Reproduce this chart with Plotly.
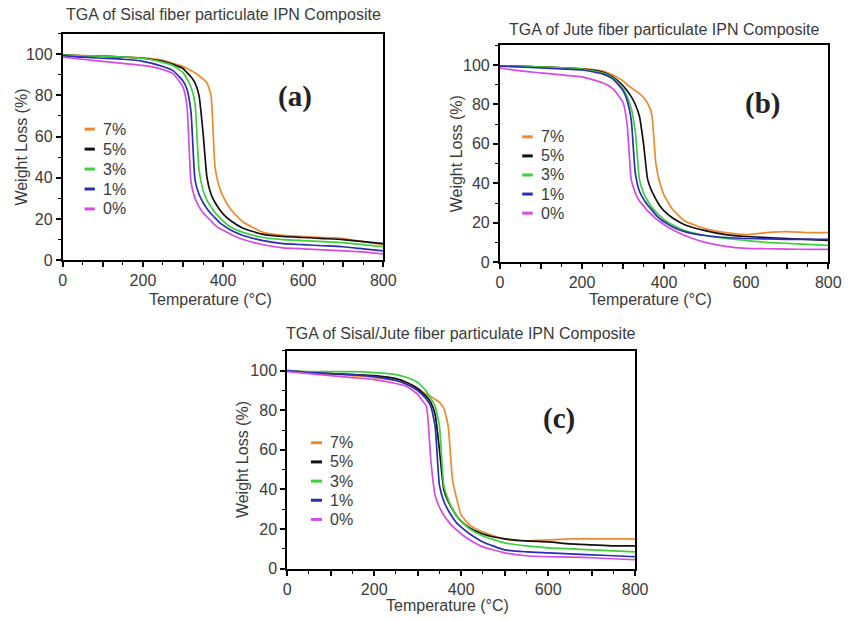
import plotly.graph_objects as go

# ---------------- data ----------------
temperature = [0, 50, 100, 150, 200, 250, 275, 300, 310, 320, 330, 340, 350, 360, 370,
               380, 390, 400, 420, 450, 500, 550, 600, 650, 700, 750, 800]

series_names = ["7%", "5%", "3%", "1%", "0%"]
series_colors = ["#EE8A2E", "#111111", "#3CD03C", "#2B2BB5", "#D54BE3"]

# (a) Sisal
sisal_7 = [99.5, 99.3, 99.0, 98.6, 98.2, 97.0, 95.5, 94.0, 93.0, 92.0, 91.0, 89.5, 88.0, 86.0, 80.0,
           45.0, 36.0, 31.0, 24.5, 18.5, 13.5, 12.0, 11.5, 11.0, 10.5, 9.0, 7.5]
sisal_5 = [99.5, 99.2, 99.0, 98.6, 98.0, 96.5, 95.0, 93.0, 91.0, 89.0, 86.0, 80.0, 62.0, 40.0, 32.0,
           28.0, 25.0, 22.5, 19.0, 15.5, 12.5, 11.5, 11.0, 10.5, 10.0, 9.0, 8.0]
sisal_3 = [99.5, 99.2, 99.0, 98.6, 98.0, 96.0, 94.5, 91.0, 88.0, 84.0, 76.0, 44.0, 34.0, 29.0, 26.0,
           23.0, 21.0, 19.0, 16.0, 13.5, 11.0, 10.0, 9.5, 9.0, 8.5, 7.5, 6.5]
sisal_1 = [99.3, 98.5, 98.0, 97.5, 96.5, 94.0, 92.0, 87.0, 83.0, 72.0, 39.0, 32.0, 28.0, 25.0, 22.5,
           20.5, 18.5, 17.0, 14.5, 12.0, 9.5, 8.0, 7.5, 7.0, 6.5, 5.5, 4.5]
sisal_0 = [98.5, 97.5, 96.5, 95.5, 94.5, 92.5, 90.5, 84.0, 75.0, 38.0, 30.0, 26.0, 23.0, 21.0, 19.0,
           17.0, 15.5, 14.5, 12.5, 10.0, 7.5, 6.0, 5.5, 5.0, 4.5, 4.0, 3.0]

# (b) Jute
jute_7 = [99.5, 99.3, 99.0, 98.6, 98.2, 97.0, 95.0, 92.0, 90.0, 88.5, 87.0, 85.5, 83.5, 80.5, 75.0,
          50.0, 40.0, 34.0, 27.0, 21.0, 17.0, 15.0, 14.0, 15.0, 15.5, 15.0, 15.0]
jute_5 = [99.5, 99.3, 99.0, 98.6, 98.0, 96.5, 94.0, 89.5, 87.0, 84.0, 80.0, 74.0, 60.0, 42.0, 36.0,
          32.0, 28.5, 26.0, 22.5, 19.0, 16.0, 14.0, 13.0, 12.5, 12.0, 11.5, 11.0]
jute_3 = [99.5, 99.3, 99.0, 98.6, 98.0, 96.0, 93.5, 88.0, 84.0, 78.0, 66.0, 42.0, 35.0, 31.0, 28.0,
          25.5, 23.5, 21.5, 19.0, 16.0, 13.5, 12.0, 11.0, 10.0, 9.5, 9.0, 8.5]
jute_1 = [99.5, 99.0, 98.5, 98.0, 97.5, 95.5, 93.0, 87.0, 82.0, 72.0, 45.0, 36.0, 32.0, 29.0, 26.5,
          24.0, 22.0, 20.5, 18.0, 15.5, 13.5, 12.5, 12.0, 11.8, 11.6, 11.5, 11.5]
jute_0 = [98.5, 97.0, 96.0, 95.0, 94.0, 91.0, 88.0, 81.0, 70.0, 42.0, 35.0, 31.0, 28.5, 26.0, 24.0,
          22.0, 20.5, 19.0, 16.5, 13.5, 10.0, 8.0, 7.0, 6.8, 6.6, 6.5, 6.5]

# (c) Sisal/Jute
hybrid_7 = [100.0, 99.0, 98.5, 97.5, 96.5, 95.0, 93.5, 91.0, 89.5, 88.0, 87.0, 85.5, 84.0, 81.0, 72.0,
            45.0, 35.0, 27.0, 22.0, 18.5, 15.0, 14.0, 14.5, 15.0, 15.0, 15.0, 15.0]
hybrid_5 = [100.0, 99.0, 98.5, 98.0, 97.5, 96.0, 94.0, 91.0, 89.0, 87.0, 84.0, 78.0, 60.0, 40.0, 34.0,
            30.0, 26.5, 24.0, 20.5, 17.5, 15.0, 14.0, 13.5, 12.5, 12.0, 11.5, 11.5]
hybrid_3 = [100.0, 99.5, 99.5, 99.5, 99.0, 98.0, 96.5, 94.0, 92.0, 89.5, 86.0, 82.0, 72.0, 42.0, 35.0,
            30.0, 26.5, 24.0, 20.0, 16.5, 13.0, 11.5, 10.5, 10.0, 9.5, 9.0, 8.5]
hybrid_1 = [100.0, 99.0, 98.5, 98.0, 97.0, 95.0, 93.0, 90.0, 88.0, 85.5, 82.0, 72.0, 42.0, 34.0, 29.5,
            26.0, 23.0, 21.0, 17.5, 13.5, 9.5, 8.5, 8.0, 7.5, 7.0, 6.5, 6.0]
hybrid_0 = [99.5, 98.5, 97.5, 96.5, 95.5, 93.5, 92.0, 88.0, 85.0, 82.0, 55.0, 37.0, 31.0, 27.0, 24.0,
            21.5, 19.5, 17.5, 14.5, 11.0, 8.0, 6.5, 6.0, 5.8, 5.5, 5.0, 4.5]

panel_titles = ["TGA of Sisal fiber particulate IPN Composite",
                "TGA of Jute fiber particulate IPN Composite",
                "TGA of Sisal/Jute fiber particulate IPN Composite"]
panel_labels = ["(a)", "(b)", "(c)"]
x_ticks = [0, 100, 200, 300, 400, 500, 600, 700, 800]
x_tick_text = ["0", "", "200", "", "400", "", "600", "", "800"]
y_ticks = [0, 20, 40, 60, 80, 100]

panels = [
    [sisal_7, sisal_5, sisal_3, sisal_1, sisal_0],
    [jute_7, jute_5, jute_3, jute_1, jute_0],
    [hybrid_7, hybrid_5, hybrid_3, hybrid_1, hybrid_0],
]

# ---------------- layout geometry ----------------
W, H = 852, 621
# pixel boxes (left, right, top, bottom) of each plotting frame
boxes = [(60, 387, 34, 264), (506, 841, 46, 266), (289, 644, 356, 577)]
# label positions (domain coords)
panel_label_pos = [(0.725, 0.722), (0.80, 0.732), (0.78, 0.688)]
xtitle_y = [-0.172, -0.17, -0.168]
title_y = [1.083, 1.073, 1.081]
ytitle_x = [-0.128, -0.132, -0.129]

TEXT = "#3a3a3a"
FONT = "Arial, Liberation Sans, sans-serif"

fig = go.Figure()
annotations = []
shapes = []
layout = {}

for p, series in enumerate(panels):
    sfx = "" if p == 0 else str(p + 1)
    xa, ya = "x" + sfx, "y" + sfx
    for name, color, vals in zip(series_names, series_colors, series):
        fig.add_trace(go.Scatter(x=temperature, y=vals, mode="lines", name=name,
                                 line=dict(color=color, width=1.7, shape="spline", smoothing=0.5),
                                 xaxis=xa, yaxis=ya, showlegend=False))
    l, r, t, b = boxes[p]
    layout["xaxis" + sfx] = dict(
        domain=[l / W, r / W], anchor=ya, range=[0, 800],
        tickmode="array", tickvals=x_ticks, ticktext=x_tick_text,
        ticks="outside", ticklen=5, tickwidth=1.5, tickcolor="black",
        minor=dict(dtick=50, ticks="outside", ticklen=3, tickcolor="black", tickwidth=1.2),
        showline=True, linecolor="black", linewidth=2, mirror=True,
        showgrid=False, zeroline=False,
        tickfont=dict(family=FONT, size=16, color=TEXT),
    )
    layout["yaxis" + sfx] = dict(
        domain=[1 - b / H, 1 - t / H], anchor=xa, range=[0, 110],
        tickmode="array", tickvals=y_ticks,
        ticks="outside", ticklen=5, tickwidth=1.5, tickcolor="black",
        minor=dict(dtick=10, ticks="outside", ticklen=3, tickcolor="black", tickwidth=1.2),
        showline=True, linecolor="black", linewidth=2, mirror=True,
        showgrid=False, zeroline=False,
        tickfont=dict(family=FONT, size=16, color=TEXT),
    )
    xd, yd = xa + " domain", ya + " domain"
    # title
    annotations.append(dict(text=panel_titles[p], xref=xd, yref=yd, x=0.5, y=title_y[p],
                            xanchor="center", yanchor="middle", showarrow=False,
                            font=dict(family=FONT, size=16, color=TEXT)))
    # axis titles
    annotations.append(dict(text="Temperature (°C)", xref=xd, yref=yd,
                            x=0.46, y=xtitle_y[p],
                            xanchor="center", yanchor="middle", showarrow=False,
                            font=dict(family=FONT, size=16, color=TEXT)))
    annotations.append(dict(text="Weight Loss (%)", xref=xd, yref=yd, x=ytitle_x[p], y=0.5,
                            xanchor="center", yanchor="middle", textangle=-90, showarrow=False,
                            font=dict(family=FONT, size=16, color=TEXT)))
    # panel label
    annotations.append(dict(text="<b>" + panel_labels[p] + "</b>", xref=xd, yref=yd,
                            x=panel_label_pos[p][0], y=panel_label_pos[p][1],
                            xanchor="center", yanchor="middle", showarrow=False,
                            font=dict(family="Liberation Serif, Times New Roman, serif",
                                      size=29, color="#222222")))
    # legend
    for i, (name, color) in enumerate(zip(series_names, series_colors)):
        yy = 0.578 - 0.088 * i
        shapes.append(dict(type="line", xref=xd, yref=yd, x0=0.068, x1=0.100, y0=yy, y1=yy,
                           line=dict(color=color, width=3)))
        annotations.append(dict(text=name, xref=xd, yref=yd, x=0.118, y=yy,
                                xanchor="left", yanchor="middle", showarrow=False,
                                font=dict(family=FONT, size=16, color=TEXT)))

fig.update_layout(
    width=W, height=H, margin=dict(l=0, r=0, t=0, b=0),
    paper_bgcolor="white", plot_bgcolor="white",
    showlegend=False, annotations=annotations, shapes=shapes, **layout,
)

fig.write_html(
    "out.html",
    config={"displayModeBar": False, "responsive": False},
    post_script=("document.documentElement.style.margin='0px';"
                 "document.documentElement.style.overflow='hidden';"
                 "document.body.style.margin='0px';"
                 "document.body.style.overflow='hidden';"),
)
